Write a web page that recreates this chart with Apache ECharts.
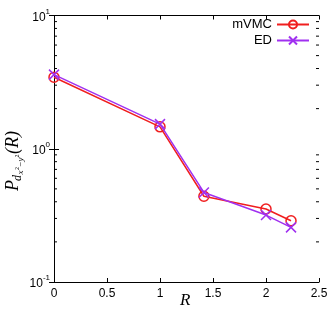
<!DOCTYPE html>
<html><head><meta charset="utf-8">
<script src="https://cdn.jsdelivr.net/npm/echarts@6/dist/echarts.min.js"></script>
<style>html,body{margin:0;padding:0;background:#fff}#c{width:332px;height:311px}</style>
</head><body><div id="c"></div>
<script>
const R = [0, 1, 1.4142, 2, 2.2361];
const mVMC = [3.44, 1.46, 0.44, 0.353, 0.288];
const ED = [3.6, 1.53, 0.47, 0.318, 0.257];
const xTicks = [0, 0.5, 1, 1.5, 2, 2.5];
const yDecades = [0.1, 1, 10];
const minorMult = [2, 3, 4, 5, 6, 7, 8, 9];

const RED = '#f01e1e', PURPLE = '#a030f0';
const minorVals = [];
yDecades.slice(0, -1).forEach(d => minorMult.forEach(m => minorVals.push([m * d])));

const chart = echarts.init(document.getElementById('c'), null, {renderer: 'canvas'});
const labFont = '"Liberation Sans", Arial, sans-serif';
const serif = '"Liberation Serif", "Times New Roman", serif';
const fmtY = v => { const e = Math.round(Math.log10(v)); return '{b|10}{s|' + (e < 0 ? '-' : '') + Math.abs(e) + '}'; };
const txt = (text, x, y, size, italic) => ({type: 'text', x: x, y: y, style: {text: text, font: (italic ? 'italic ' : '') + size + 'px ' + serif, fill: '#000', verticalAlign: 'middle', align: 'left'}});

chart.setOption({
  animation: false,
  grid: {left: 54, right: 13, top: 15.5, bottom: 29, containLabel: false},
  xAxis: [
    {type: 'value', min: 0, max: 2.5, interval: 0.5, position: 'bottom',
     axisLine: {lineStyle: {color: '#000', width: 1}}, splitLine: {show: false},
     axisTick: {inside: true, length: 4, lineStyle: {color: '#000'}},
     axisLabel: {color: '#000', fontSize: 12, fontFamily: labFont, margin: 6}},
    {type: 'value', min: 0, max: 2.5, interval: 0.5, position: 'top',
     axisLine: {lineStyle: {color: '#000', width: 1}}, splitLine: {show: false},
     axisTick: {inside: true, length: 4, lineStyle: {color: '#000'}}, axisLabel: {show: false}}
  ],
  yAxis: [
    {type: 'log', logBase: 10, min: 0.1, max: 10, position: 'left',
     axisLine: {lineStyle: {color: '#000', width: 1}}, splitLine: {show: false},
     axisTick: {inside: true, length: 5, lineStyle: {color: '#000'}},
     axisLabel: {formatter: fmtY, margin: 4, rich: {
       b: {fontSize: 12, fontFamily: labFont, color: '#000', lineHeight: 16, verticalAlign: 'bottom'},
       s: {fontSize: 8, fontFamily: labFont, color: '#000', lineHeight: 9, verticalAlign: 'top'}}}},
    {type: 'log', logBase: 10, min: 0.1, max: 10, position: 'right',
     axisLine: {lineStyle: {color: '#000', width: 1}}, splitLine: {show: false},
     axisTick: {inside: true, length: 5, lineStyle: {color: '#000'}}, axisLabel: {show: false}}
  ],
  legend: {orient: 'vertical', right: 22, top: 18, align: 'right', itemGap: 3, padding: 0,
    itemWidth: 32, itemHeight: 10,
    textStyle: {fontSize: 13, fontFamily: labFont, color: '#000', width: 42, align: 'right'},
    data: ['mVMC', 'ED']},
  series: [
    {name: 'mVMC', type: 'line', data: R.map((x, i) => [x, mVMC[i]]),
     symbol: 'circle', symbolSize: 10, z: 3,
     lineStyle: {color: RED, width: 1.5},
     itemStyle: {color: 'rgba(0,0,0,0)', borderColor: RED, borderWidth: 1.5}},
    {name: 'ED', type: 'line', data: R.map((x, i) => [x, ED[i]]),
     symbol: 'path://M0,0L10,10M10,0L0,10', symbolSize: 10, z: 4,
     lineStyle: {color: PURPLE, width: 1.5},
     itemStyle: {color: 'rgba(0,0,0,0)', borderColor: PURPLE, borderWidth: 1.5}},
    {type: 'custom', data: minorVals, silent: true, z: 1,
     encode: {y: 0},
     renderItem: function (params, api) {
       const v = api.value(0);
       const l = api.coord([0, v]), r = api.coord([2.5, v]);
       return {type: 'group', children: [
         {type: 'line', shape: {x1: l[0], y1: l[1], x2: l[0] + 3, y2: l[1]}, style: {stroke: '#000', lineWidth: 1}},
         {type: 'line', shape: {x1: r[0], y1: r[1], x2: r[0] - 3, y2: r[1]}, style: {stroke: '#000', lineWidth: 1}}
       ]};
     }}
  ],
  graphic: [
    {type: 'text', left: 180, top: 292, style: {text: 'R', font: 'italic 17px ' + serif, fill: '#000'}},
    {type: 'group', x: 13, y: 157, rotation: Math.PI / 2, children: [
      txt('P', -34, 0, 18, true),
      txt('d', -24, 5, 12, true),
      txt('x', -17.5, 8, 9, true),
      txt('2', -13, 4, 6, false),
      txt('\u2212', -10, 8, 9, false),
      txt('y', -4.5, 8, 9, true),
      txt('2', -0.5, 4, 6, false),
      txt('(R)', 3, 0, 18, true)
    ]}
  ]
});
</script></body></html>
